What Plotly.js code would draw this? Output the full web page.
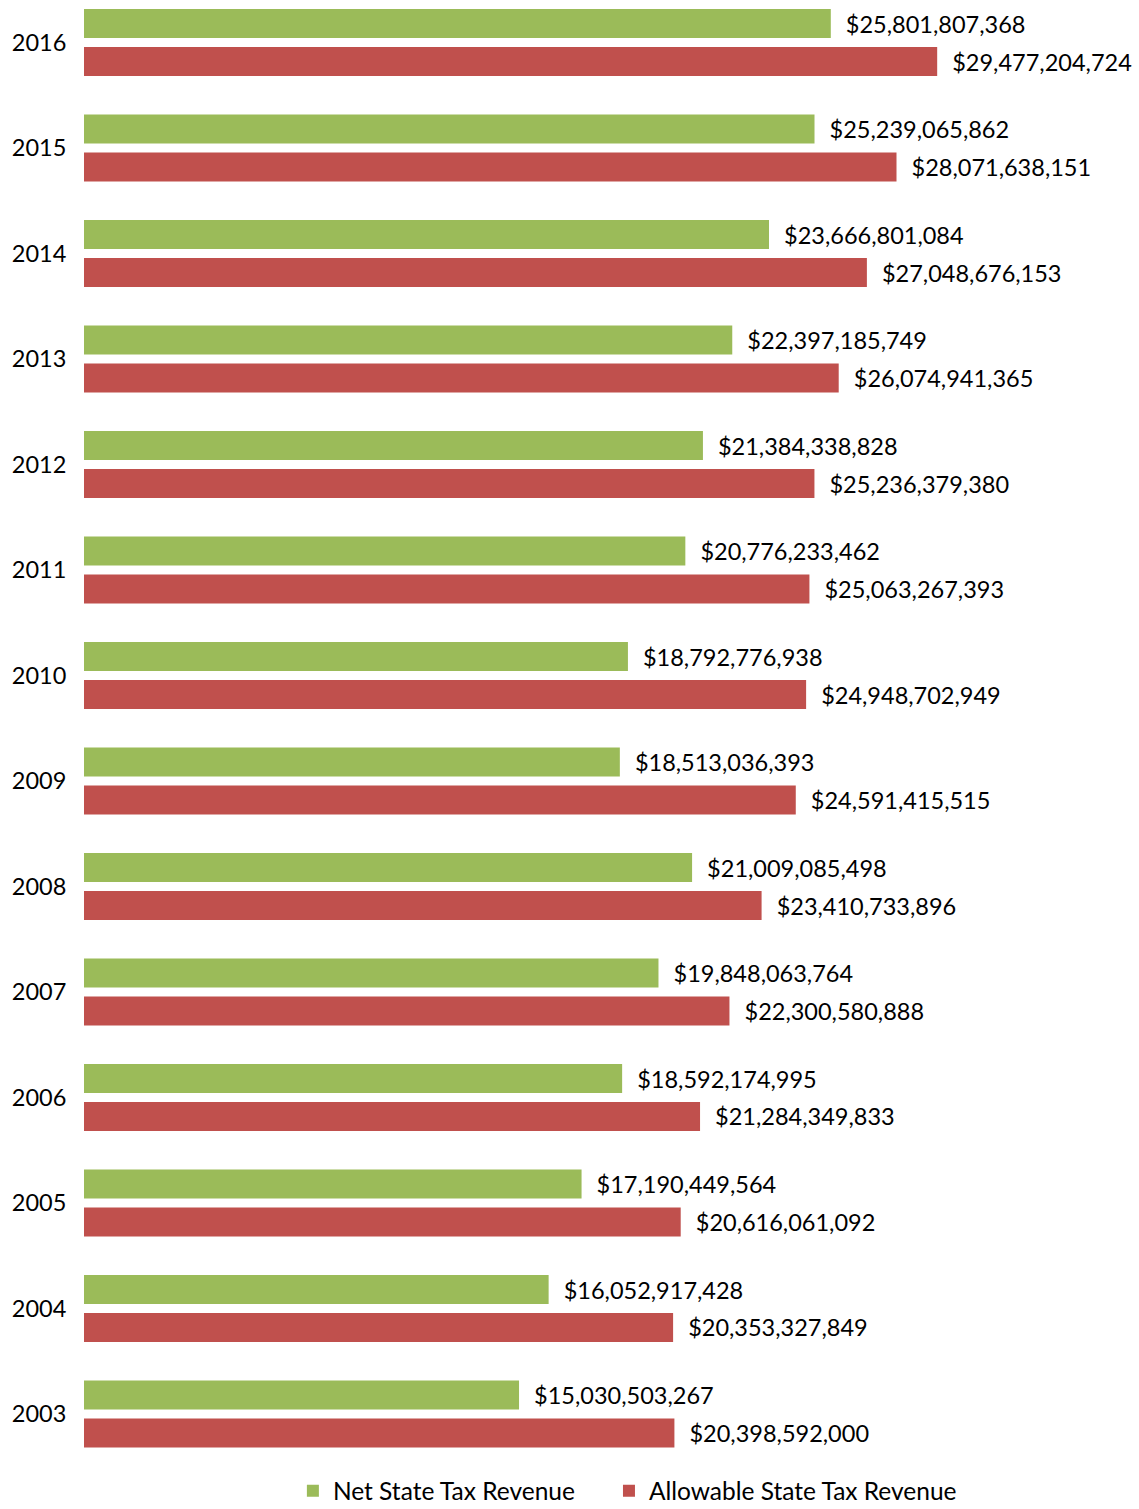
<!DOCTYPE html>
<html>
<head>
<meta charset="utf-8">
<script src="https://cdn.plot.ly/plotly-3.0.1.min.js"></script>
<style>html,body{margin:0;padding:0;background:#fff;}#chart{width:1139px;height:1509px;}</style>
</head>
<body>
<div id="chart"></div>
<script>
const years = ["2016","2015","2014","2013","2012","2011","2010","2009","2008","2007","2006","2005","2004","2003"];
const netRevenue = [25801807368, 25239065862, 23666801084, 22397185749, 21384338828, 20776233462, 18792776938, 18513036393, 21009085498, 19848063764, 18592174995, 17190449564, 16052917428, 15030503267];
const allowableRevenue = [29477204724, 28071638151, 27048676153, 26074941365, 25236379380, 25063267393, 24948702949, 24591415515, 23410733896, 22300580888, 21284349833, 20616061092, 20353327849, 20398592000];
const seriesNames = ["Net State Tax Revenue", "Allowable State Tax Revenue"];
const colors = ["#9BBB59", "#C0504D"];
const legendIds = ["legend", "legend2"];

const FONT = "Lato, 'Open Sans', sans-serif";
function makeTrace(vals, i) {
  return {
    type: "bar", orientation: "h",
    x: vals, y: years, name: seriesNames[i],
    legend: legendIds[i],
    marker: {color: colors[i]},
    texttemplate: "\u00a0\u00a0$%{x:,}",
    textposition: "outside",
    constraintext: "none",
    cliponaxis: false,
    textfont: {family: FONT, size: 23.5, color: "#000"},
    hoverinfo: "skip"
  };
}
const data = [makeTrace(netRevenue, 0), makeTrace(allowableRevenue, 1)];
const legendCommon = {orientation: "h", yref: "container", y: 0.012, yanchor: "middle", xanchor: "left",
                      font: {family: FONT, size: 24.5, color: "#000"}, bgcolor: "rgba(0,0,0,0)"};
const layout = {
  width: 1139, height: 1509,
  margin: {l: 84, r: 0, t: 0, b: 49},
  paper_bgcolor: "#fff", plot_bgcolor: "#fff",
  barmode: "group", bargap: 0.28, bargroupgap: 0.237,
  showlegend: true,
  font: {family: FONT, size: 23, color: "#000"},
  xaxis: {range: [0, 36.45e9], showgrid: false, zeroline: false, showticklabels: false, showline: false, fixedrange: true},
  yaxis: {type: "category", categoryorder: "array", categoryarray: years,
          range: [13.436, -0.403], showgrid: false, zeroline: false, showline: false,
          ticks: "outside", ticklen: 12, tickcolor: "rgba(0,0,0,0)",
          tickfont: {family: FONT, size: 23.5, color: "#000"}, fixedrange: true},
  legend: Object.assign({}, legendCommon, {x: 0.198}),
  legend2: Object.assign({}, legendCommon, {x: 0.4976})
};
Plotly.newPlot("chart", data, layout, {staticPlot: true, displayModeBar: false});
</script>
</body>
</html>
